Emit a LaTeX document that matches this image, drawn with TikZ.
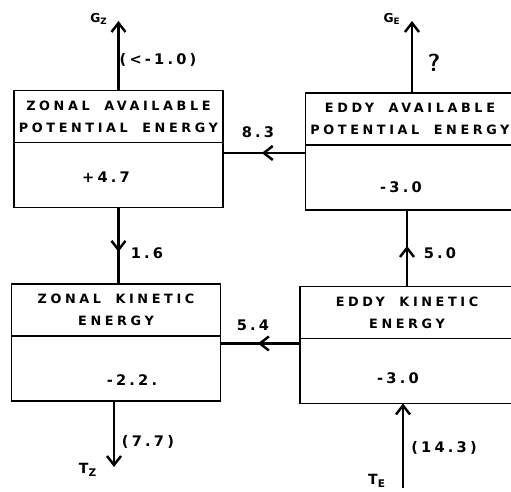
\documentclass[tikz,border=0pt]{standalone}
\usepackage{fontspec}
\usepackage{tikz}
\usetikzlibrary{positioning, arrows.meta, decorations.markings}
\newfontfamily\lettering[LetterSpace=28, WordSpace=1.8]{DejaVu Sans}
\newfontfamily\numfont[LetterSpace=22]{DejaVu Sans}

\begin{document}
\begin{tikzpicture}[x=0.2mm, y=-0.2mm,
  title/.style={draw, line width=1.1pt, minimum width=41.8mm, minimum height=10.4mm,
                inner sep=0pt, outer sep=0pt, align=center,
                font=\lettering\bfseries\fontsize{7.3}{12.5}\selectfont},
  value/.style={draw, line width=1.1pt, minimum width=41.8mm, minimum height=13mm,
                inner sep=0pt, outer sep=0pt},
  num/.style={font=\numfont\bfseries\fontsize{8.3}{9}\selectfont, inner sep=1pt},
  flow/.style={line width=1.6pt},
  tip/.style={-{Straight Barb[length=1.8mm, width=2.8mm, line width=1.4pt]}},
  mid/.style={decoration={markings, mark=at position #1 with
                {\arrow{Straight Barb[length=1.8mm, width=2.8mm, line width=1.4pt]}}},
              postaction={decorate}},
]
  \useasboundingbox (0,0) rectangle (511,492);
  \clip (0,0) rectangle (511,492);

  % the four boxes
  \node[title] (ZAt) at (118.5,116.5) {ZONAL AVAILABLE\\POTENTIAL ENERGY};
  \node[value, below=0pt of ZAt] (ZAv) {};
  \node[title] (EAt) at (410,119) {EDDY AVAILABLE\\POTENTIAL ENERGY};
  \node[value, below=0pt of EAt] (EAv) {};
  \node[title] (ZKt) at (116,310) {ZONAL KINETIC\\ENERGY};
  \node[value, below=0pt of ZKt] (ZKv) {};
  \node[title, minimum width=42.8mm] (EKt) at (407,312.5) {EDDY KINETIC\\ENERGY};
  \node[value, minimum width=42.8mm, below=0pt of EKt] (EKv) {};

  \node[num] (ZAn) at (106,177) {+4.7};
  \node[num] (EAn) at (401,187) {-3.0};
  \node[num] (ZKn) at (132,380) {-2.2.};
  \node[num] (EKn) at (398,378) {-3.0};

  % conversions
  \coordinate (s83) at ([yshift=-1.6mm]EAv.north west);
  \draw[flow, mid=0.53] (s83) -- (s83 -| ZAv.east);
  \coordinate (s54) at ([yshift=-1mm]EKv.north west);
  \draw[flow, mid=0.53] (s54) -- (s54 -| ZKv.east);
  \draw[flow, mid=0.58] (ZAv.south) -- (ZAv.south |- ZKt.north);
  \draw[flow, mid=0.53] (EKt.north) -- (EKt.north |- EAv.south);

  % generation and dissipation
  \coordinate (GZ) at (118.5,21);
  \coordinate (GE) at (412,21);
  \coordinate (TZ) at (114,467);
  \coordinate (TE) at (403,488);
  \draw[flow, tip] (GZ |- ZAt.north) -- (GZ);
  \draw[flow, tip] (GE |- EAt.north) -- (GE);
  \draw[flow, tip] (TZ |- ZKv.south) -- (TZ);
  \draw[flow, tip] (TE) -- (TE |- EKv.south);

  % labels
  \node[num] (l83) at (258,132) {8.3};
  \node[num] (l54) at (253,325) {5.4};
  \node[num] (l16) at (147,253) {1.6};
  \node[num] (l50) at (440,253) {5.0};
  \node[num] (lgz) at (158,60) {(<-1.0)};
  \node[font=\sffamily\bfseries\fontsize{14}{15}\selectfont] (lge) at (434,63) {?};
  \node[num] (ltz) at (148,442) {(7.7)};
  \node[num] (lte) at (444,448) {(14.3)};
  \node[num, font=\numfont\bfseries\fontsize{7}{8}\selectfont] (GZl) at (99,19) {G\textsubscript{Z}};
  \node[num, font=\numfont\bfseries\fontsize{7}{8}\selectfont] (GEl) at (392,19) {G\textsubscript{E}};
  \node[num, font=\numfont\bfseries\fontsize{8}{8}\selectfont] (TZl) at (88,470) {T\textsubscript{Z}};
  \node[num, font=\numfont\bfseries\fontsize{8}{8}\selectfont] (TEl) at (377,481) {T\textsubscript{E}};
\end{tikzpicture}
\end{document}
